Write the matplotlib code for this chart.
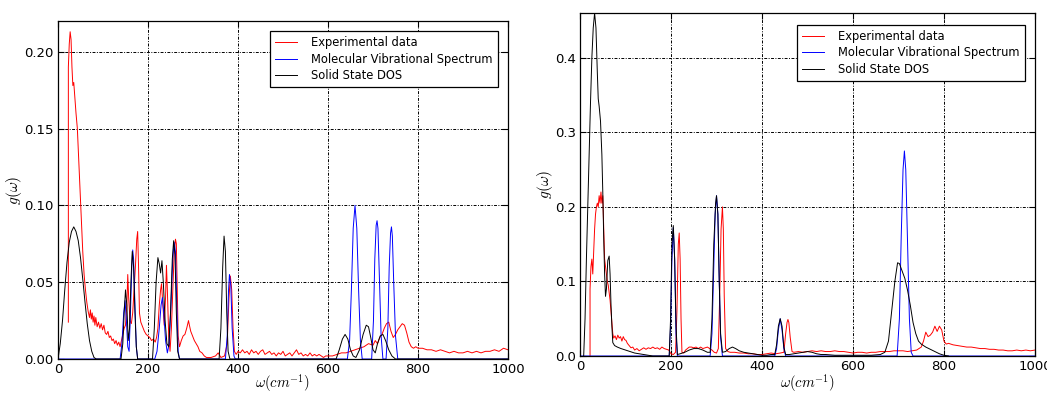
import matplotlib
matplotlib.use("Agg")
import matplotlib.pyplot as plt

# ---------------- left panel ----------------
left_exp_x = [23, 23, 25, 27, 29, 31, 33, 35, 37, 40, 43, 46, 49, 52, 55, 58, 61, 64, 67, 70, 72, 74, 76, 78, 80, 82, 84, 87, 90, 93, 96, 99, 102, 105, 108, 111, 114, 117, 120, 123, 126, 129, 132, 135, 138, 141, 144, 147, 150, 153, 155, 157, 160, 163, 166, 169, 172, 175, 177, 179, 181, 184, 188, 192, 196, 200, 204, 208, 212, 216, 219, 222, 225, 228, 230, 233, 236, 239, 241, 243, 246, 249, 252, 255, 258, 261, 263, 265, 267, 270, 274, 278, 282, 286, 290, 292, 295, 299, 303, 307, 311, 315, 320, 325, 330, 340, 350, 356, 362, 370, 376, 380, 383, 386, 389, 392, 396, 400, 405, 410, 415, 420, 425, 430, 435, 440, 445, 450, 455, 460, 465, 470, 475, 480, 485, 490, 495, 500, 505, 510, 515, 520, 525, 530, 535, 540, 545, 550, 555, 560, 565, 570, 575, 580, 585, 590, 595, 600, 610, 620, 630, 640, 650, 660, 670, 680, 690, 700, 705, 710, 715, 720, 725, 730, 735, 740, 745, 750, 755, 760, 765, 770, 775, 780, 785, 790, 795, 800, 810, 820, 830, 840, 850, 860, 870, 880, 890, 900, 910, 920, 930, 940, 950, 960, 970, 980, 990, 1000]
left_exp_y = [0.024, 0.19, 0.205, 0.213, 0.208, 0.19, 0.178, 0.18, 0.172, 0.16, 0.15, 0.13, 0.11, 0.09, 0.07, 0.055, 0.045, 0.037, 0.031, 0.027, 0.032, 0.026, 0.03, 0.024, 0.028, 0.022, 0.027, 0.021, 0.024, 0.02, 0.023, 0.019, 0.022, 0.017, 0.016, 0.018, 0.014, 0.015, 0.012, 0.013, 0.01, 0.012, 0.009, 0.011, 0.008, 0.012, 0.016, 0.02, 0.022, 0.035, 0.055, 0.04, 0.025, 0.023, 0.03, 0.045, 0.06, 0.078, 0.083, 0.06, 0.03, 0.024, 0.021, 0.018, 0.016, 0.015, 0.014, 0.012, 0.013, 0.011, 0.014, 0.02, 0.035, 0.045, 0.049, 0.035, 0.022, 0.04, 0.061, 0.045, 0.015, 0.005, 0.02, 0.045, 0.068, 0.078, 0.075, 0.045, 0.015, 0.008, 0.012, 0.015, 0.016, 0.02, 0.025, 0.022, 0.018, 0.015, 0.012, 0.01, 0.008, 0.005, 0.004, 0.002, 0.001, 0.001, 0.002, 0.004, 0.001, 0.002, 0.01, 0.04, 0.054, 0.045, 0.02, 0.005, 0.003, 0.005, 0.004, 0.006, 0.004, 0.005, 0.003, 0.006, 0.004, 0.005, 0.003, 0.005, 0.006, 0.003, 0.004, 0.005, 0.003, 0.004, 0.002, 0.004, 0.003, 0.005, 0.002, 0.003, 0.004, 0.002, 0.004, 0.006, 0.003, 0.004, 0.002, 0.003, 0.002, 0.004, 0.002, 0.003, 0.002, 0.003, 0.002, 0.001, 0.002, 0.002, 0.002, 0.003, 0.004, 0.004, 0.005, 0.006, 0.007, 0.008, 0.01, 0.009, 0.012, 0.01, 0.014, 0.016, 0.02, 0.023, 0.024, 0.018, 0.014, 0.016, 0.019, 0.021, 0.023, 0.022, 0.017, 0.011, 0.008, 0.007, 0.008, 0.007, 0.007, 0.006, 0.006, 0.005, 0.006, 0.005, 0.004, 0.005, 0.004, 0.004, 0.005, 0.004, 0.005, 0.004, 0.005, 0.005, 0.006, 0.005, 0.007, 0.006]

left_mol_x = [0, 138, 142, 146, 149, 152, 155, 158, 161, 164, 166, 168, 171, 174, 177, 215, 220, 225, 229, 232, 235, 239, 243, 247, 251, 255, 258, 261, 264, 267, 270, 372, 376, 379, 381, 384, 387, 391, 394, 643, 648, 652, 656, 660, 664, 668, 672, 676, 697, 701, 704, 707, 709, 711, 714, 718, 722, 729, 733, 736, 739, 741, 743, 746, 750, 755, 1000]
left_mol_y = [0, 0, 0.01, 0.03, 0.038, 0.025, 0.008, 0.005, 0.03, 0.06, 0.071, 0.065, 0.035, 0.008, 0, 0, 0.005, 0.02, 0.035, 0.04, 0.03, 0.012, 0.004, 0.01, 0.035, 0.065, 0.076, 0.07, 0.035, 0.005, 0, 0, 0.015, 0.045, 0.055, 0.048, 0.02, 0.002, 0, 0, 0.012, 0.045, 0.085, 0.1, 0.085, 0.045, 0.012, 0, 0, 0.025, 0.065, 0.087, 0.09, 0.085, 0.055, 0.015, 0, 0, 0.02, 0.06, 0.082, 0.086, 0.08, 0.05, 0.015, 0, 0]

left_dos_x = [0, 5, 10, 15, 20, 25, 30, 35, 40, 45, 50, 55, 60, 65, 70, 75, 80, 85, 140, 144, 147, 150, 153, 156, 159, 162, 165, 168, 171, 174, 177, 210, 214, 218, 222, 225, 228, 231, 234, 238, 242, 246, 250, 254, 257, 260, 263, 266, 270, 358, 362, 366, 369, 372, 375, 378, 382, 618, 625, 632, 638, 644, 650, 656, 662, 670, 678, 685, 690, 695, 700, 705, 710, 716, 722, 728, 735, 742, 750, 1000]
left_dos_y = [0, 0.01, 0.025, 0.045, 0.063, 0.076, 0.083, 0.086, 0.083, 0.077, 0.066, 0.052, 0.037, 0.023, 0.012, 0.005, 0.001, 0, 0, 0.01, 0.03, 0.045, 0.035, 0.012, 0.02, 0.05, 0.07, 0.06, 0.03, 0.008, 0, 0, 0.02, 0.05, 0.066, 0.062, 0.056, 0.064, 0.05, 0.025, 0.01, 0.008, 0.03, 0.065, 0.077, 0.068, 0.03, 0.005, 0, 0, 0.02, 0.06, 0.08, 0.07, 0.03, 0.005, 0, 0, 0.006, 0.013, 0.016, 0.013, 0.006, 0.002, 0.001, 0.006, 0.016, 0.022, 0.021, 0.014, 0.006, 0.004, 0.01, 0.015, 0.016, 0.012, 0.006, 0.002, 0, 0]

# ---------------- right panel ----------------
right_exp_x = [22, 22, 24, 26, 28, 30, 32, 34, 36, 38, 40, 42, 44, 46, 48, 50, 52, 54, 56, 58, 60, 62, 64, 66, 68, 70, 72, 74, 77, 80, 83, 86, 89, 92, 95, 98, 101, 104, 108, 112, 116, 120, 125, 130, 135, 140, 145, 150, 155, 160, 165, 170, 175, 180, 185, 190, 195, 200, 205, 210, 213, 216, 218, 220, 222, 224, 228, 232, 236, 240, 245, 250, 255, 260, 265, 270, 275, 280, 285, 290, 295, 300, 304, 307, 310, 313, 315, 317, 320, 325, 330, 340, 350, 360, 370, 380, 390, 400, 410, 420, 430, 440, 448, 452, 455, 457, 459, 462, 466, 470, 480, 490, 500, 510, 520, 530, 540, 550, 560, 570, 580, 590, 600, 610, 620, 630, 640, 650, 660, 670, 680, 690, 700, 710, 720, 730, 740, 750, 755, 760, 765, 770, 775, 780, 785, 790, 795, 800, 805, 810, 820, 830, 840, 850, 860, 870, 880, 890, 900, 910, 920, 930, 940, 950, 960, 970, 980, 990, 1000]
right_exp_y = [0, 0.09, 0.12, 0.13, 0.11, 0.14, 0.17, 0.19, 0.2, 0.205, 0.2, 0.215, 0.205, 0.22, 0.205, 0.215, 0.17, 0.13, 0.12, 0.11, 0.1, 0.095, 0.085, 0.075, 0.06, 0.045, 0.03, 0.024, 0.027, 0.022, 0.028, 0.024, 0.026, 0.02, 0.026, 0.022, 0.021, 0.017, 0.014, 0.011, 0.012, 0.008, 0.01, 0.007, 0.009, 0.011, 0.009, 0.011, 0.01, 0.012, 0.01, 0.011, 0.009, 0.012, 0.01, 0.009, 0.008, 0.003, 0.002, 0.005, 0.06, 0.15, 0.165, 0.13, 0.05, 0.005, 0.004, 0.008, 0.01, 0.012, 0.012, 0.011, 0.012, 0.01, 0.012, 0.01, 0.011, 0.012, 0.01, 0.008, 0.005, 0.004, 0.01, 0.08, 0.17, 0.2, 0.17, 0.08, 0.01, 0.006, 0.005, 0.005, 0.004, 0.004, 0.003, 0.003, 0.002, 0.002, 0.003, 0.004, 0.003, 0.004, 0.005, 0.03, 0.045, 0.049, 0.045, 0.025, 0.006, 0.005, 0.006, 0.005, 0.006, 0.007, 0.006, 0.007, 0.006, 0.006, 0.007, 0.006, 0.006, 0.005, 0.004, 0.005, 0.005, 0.004, 0.005, 0.005, 0.006, 0.006, 0.006, 0.007, 0.007, 0.007, 0.006, 0.007, 0.008, 0.012, 0.02, 0.032, 0.026, 0.028, 0.032, 0.04, 0.033, 0.04, 0.035, 0.02, 0.016, 0.017, 0.015, 0.014, 0.013, 0.012, 0.012, 0.011, 0.01, 0.01, 0.009, 0.009, 0.008, 0.008, 0.007, 0.007, 0.008, 0.007, 0.008, 0.007, 0.008]

right_mol_x = [0, 196, 199, 202, 205, 208, 211, 214, 286, 290, 294, 297, 300, 303, 306, 309, 313, 428, 432, 436, 440, 444, 448, 452, 697, 702, 706, 710, 713, 716, 720, 724, 728, 732, 1000]
right_mol_y = [0, 0, 0.04, 0.13, 0.172, 0.13, 0.03, 0, 0, 0.03, 0.12, 0.19, 0.215, 0.19, 0.1, 0.025, 0, 0, 0.01, 0.035, 0.05, 0.035, 0.01, 0, 0, 0.05, 0.16, 0.25, 0.275, 0.25, 0.15, 0.05, 0.005, 0, 0]

right_dos_x = [8, 11, 14, 17, 20, 23, 26, 29, 32, 35, 38, 40, 42, 45, 48, 50, 52, 54, 56, 58, 61, 64, 66, 68, 70, 72, 76, 82, 90, 100, 110, 120, 130, 140, 150, 160, 196, 199, 202, 205, 208, 211, 214, 220, 230, 240, 250, 260, 270, 280, 286, 290, 294, 298, 300, 303, 306, 309, 313, 320, 328, 335, 342, 350, 360, 370, 380, 390, 400, 410, 420, 428, 432, 436, 440, 444, 448, 452, 460, 470, 480, 490, 500, 510, 520, 530, 540, 560, 600, 640, 660, 670, 678, 685, 692, 698, 702, 708, 714, 720, 726, 732, 738, 744, 750, 760, 770, 780, 790, 800, 810]
right_dos_y = [0, 0.05, 0.13, 0.2, 0.27, 0.34, 0.4, 0.44, 0.46, 0.44, 0.38, 0.345, 0.335, 0.315, 0.27, 0.22, 0.16, 0.11, 0.08, 0.09, 0.128, 0.134, 0.11, 0.07, 0.04, 0.018, 0.014, 0.012, 0.01, 0.008, 0.006, 0.004, 0.003, 0.002, 0.001, 0, 0, 0.05, 0.15, 0.175, 0.13, 0.04, 0.002, 0.003, 0.005, 0.008, 0.01, 0.01, 0.008, 0.005, 0.005, 0.05, 0.15, 0.205, 0.215, 0.19, 0.1, 0.03, 0.005, 0.006, 0.01, 0.012, 0.01, 0.007, 0.005, 0.004, 0.003, 0.002, 0.001, 0.001, 0.002, 0.002, 0.015, 0.04, 0.05, 0.04, 0.012, 0.002, 0.002, 0.003, 0.004, 0.005, 0.006, 0.005, 0.003, 0.002, 0.002, 0.001, 0.001, 0.001, 0.002, 0.005, 0.02, 0.06, 0.1, 0.125, 0.124, 0.114, 0.104, 0.088, 0.068, 0.045, 0.03, 0.02, 0.016, 0.012, 0.009, 0.006, 0.003, 0.001, 0]

labels = ["Experimental data", "Molecular Vibrational Spectrum", "Solid State DOS"]
x_ticks = [0, 200, 400, 600, 800, 1000]

plt.rcParams["font.family"] = "DejaVu Sans"
plt.rcParams["mathtext.fontset"] = "cm"

fig = plt.figure(figsize=(10.47, 3.94), dpi=100, facecolor="white")
ax1 = fig.add_axes([0.0554, 0.0888, 0.4298, 0.8579])
ax2 = fig.add_axes([0.5540, 0.0964, 0.4345, 0.8706])

panels = [
    (ax1, (left_exp_x, left_exp_y), (left_mol_x, left_mol_y), (left_dos_x, left_dos_y),
     0.22, [0, 0.05, 0.10, 0.15, 0.20], "%.2f", (0.99, 0.987), -3),
    (ax2, (right_exp_x, right_exp_y), (right_mol_x, right_mol_y), (right_dos_x, right_dos_y),
     0.46, [0, 0.1, 0.2, 0.3, 0.4], "%.1f", (0.99, 0.983), -1),
]

for ax, exp, mol, dos, ytop, yticks, fmt, legloc, xpad in panels:
    ax.plot(*exp, color="red", lw=0.7, label=labels[0])
    ax.plot(*mol, color="blue", lw=0.7, label=labels[1])
    ax.plot(*dos, color="black", lw=0.7, label=labels[2])
    ax.set_xlim(0, 1000)
    ax.set_ylim(0, ytop)
    ax.set_xticks(x_ticks)
    ax.set_yticks(yticks)
    ax.set_yticklabels([fmt % v for v in yticks])
    ax.tick_params(direction="in", labelsize=9.5, top=True, right=True, length=4, pad=3)
    ax.grid(True, color="black", linestyle=(0, (3, 1.5, 1, 1.5)), linewidth=0.7)
    ax.set_axisbelow(True)
    for s in ax.spines.values():
        s.set_linewidth(0.9)
    ax.set_xlabel(r"$\omega(cm^{-1})$", fontsize=10.5, labelpad=xpad)
    ax.set_ylabel(r"$g(\omega)$", fontsize=11, labelpad=0)
    leg = ax.legend(loc="upper right", bbox_to_anchor=legloc, fontsize=8.3,
                    fancybox=False, framealpha=1, edgecolor="black",
                    handlelength=1.9, borderpad=0.45, labelspacing=0.3, handletextpad=1.2)
    leg.get_frame().set_linewidth(0.9)

fig.savefig("out.png", dpi=100, facecolor="white")
